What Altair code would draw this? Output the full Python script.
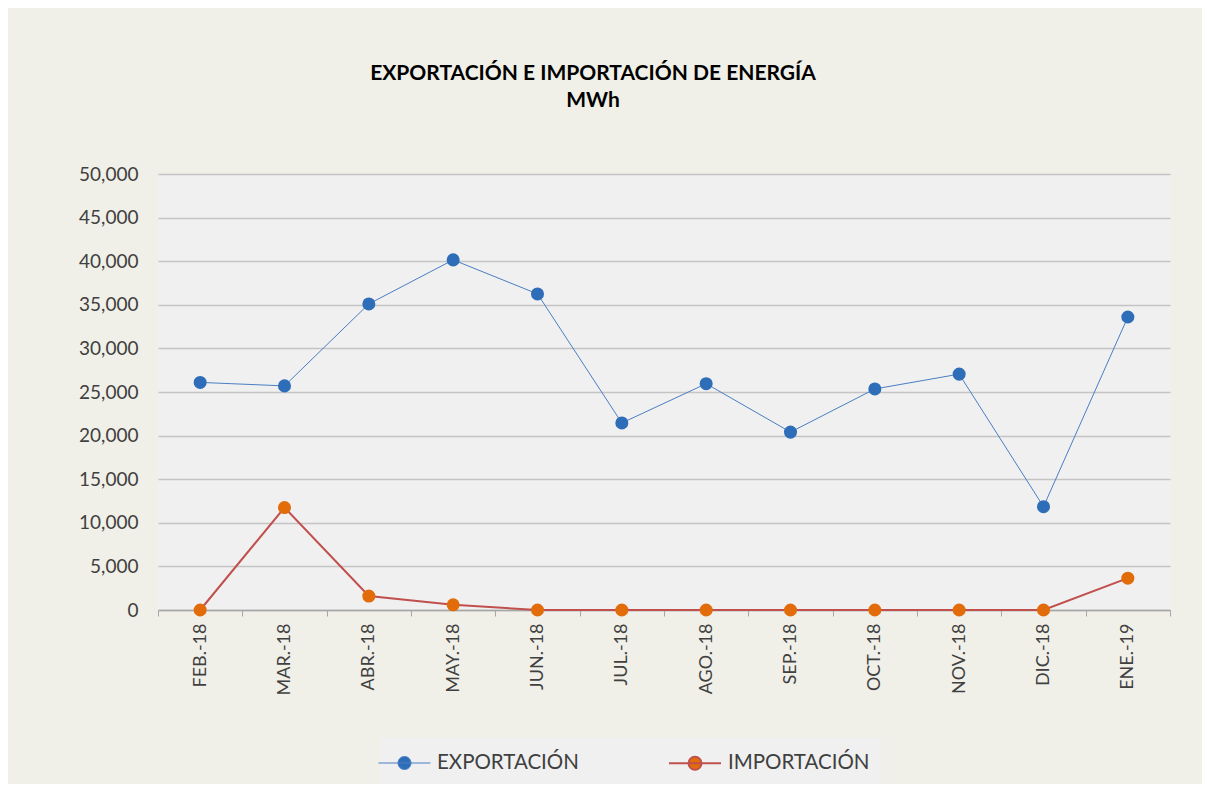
import altair as alt
import pandas as pd

meses = ["FEB.-18", "MAR.-18", "ABR.-18", "MAY.-18", "JUN.-18", "JUL.-18",
         "AGO.-18", "SEP.-18", "OCT.-18", "NOV.-18", "DIC.-18", "ENE.-19"]
exportacion = [26100, 25700, 35100, 40150, 36250, 21450, 25950, 20400, 25350, 27050, 11850, 33600]
importacion = [0, 11750, 1600, 600, 0, 0, 0, 0, 0, 0, 0, 3650]
series = ["EXPORTACIÓN", "IMPORTACIÓN"]
line_colors = ["#4A7EC4", "#C0504D"]
marker_colors = ["#2E6DB8", "#E36C0A"]
line_widths = [1, 2]
y_ticks = list(range(0, 50001, 5000))

rows = []
for m, e, i in zip(meses, exportacion, importacion):
    rows.append({"mes": m, "serie": series[0], "valor": e})
    rows.append({"mes": m, "serie": series[1], "valor": i})
df = pd.DataFrame(rows)

FONT = "Lato"

x = alt.X("mes:N", sort=meses, title=None,
          axis=alt.Axis(labelAngle=-90, tickBand="extent", ticks=True, tickSize=6,
                        tickColor="#A6A6A6", domainColor="#A6A6A6", domainWidth=1.5,
                        labelFontSize=18, labelColor="#404040", labelPadding=7,
                        labelFont=FONT, grid=False))
y = alt.Y("valor:Q", title=None,
          scale=alt.Scale(domain=[0, 50000], nice=False),
          axis=alt.Axis(values=y_ticks, format=",.0f", domain=False, ticks=False,
                        labelFontSize=19, labelColor="#404040", labelPadding=20,
                        labelFont=FONT, grid=True, gridColor="#C4C4C4", gridWidth=1.5))

legend = alt.Legend(title=None)

lines = alt.Chart(df).mark_line().encode(
    x=x, y=y,
    stroke=alt.Stroke("serie:N", scale=alt.Scale(domain=series, range=line_colors), legend=legend),
    strokeWidth=alt.StrokeWidth("serie:N", scale=alt.Scale(domain=series, range=line_widths), legend=None),
)
points = alt.Chart(df).mark_circle(size=170, opacity=1).encode(
    x=x, y=y,
    fill=alt.Fill("serie:N", scale=alt.Scale(domain=series, range=marker_colors), legend=legend),
)

symbol_path = "M-2,0L2,0M-0.5,0A0.5,0.5,0,1,1,0.5,0A0.5,0.5,0,1,1,-0.5,0Z"

chart = alt.layer(lines, points).properties(
    width=1012, height=436,
    autosize=alt.AutoSizeParams(type="none"),
    padding={"left": 150, "top": 166, "right": 32, "bottom": 174},
    background="#F1F0E8",
    title=alt.TitleParams(
        text=["EXPORTACIÓN E IMPORTACIÓN DE ENERGÍA", "MWh"],
        font=FONT, fontSize=21, fontWeight="bold", color="#000000",
        anchor="middle", dx=-71, offset=54, lineHeight=27,
    ),
).configure_view(
    fill="#F0F0F0", stroke=None
).configure_legend(
    orient="none", legendX=222, legendY=564, direction="horizontal",
    fillColor="#F0F0F0", padding=11, columnPadding=86,
    symbolType=symbol_path, symbolSize=676, symbolStrokeWidth=1.5,
    labelFont=FONT, labelFontSize=20.5, labelColor="#404040", labelOffset=19,
    labelLimit=300,
)

chart.save("out.html", embed_options={"renderer": "svg", "actions": False})
